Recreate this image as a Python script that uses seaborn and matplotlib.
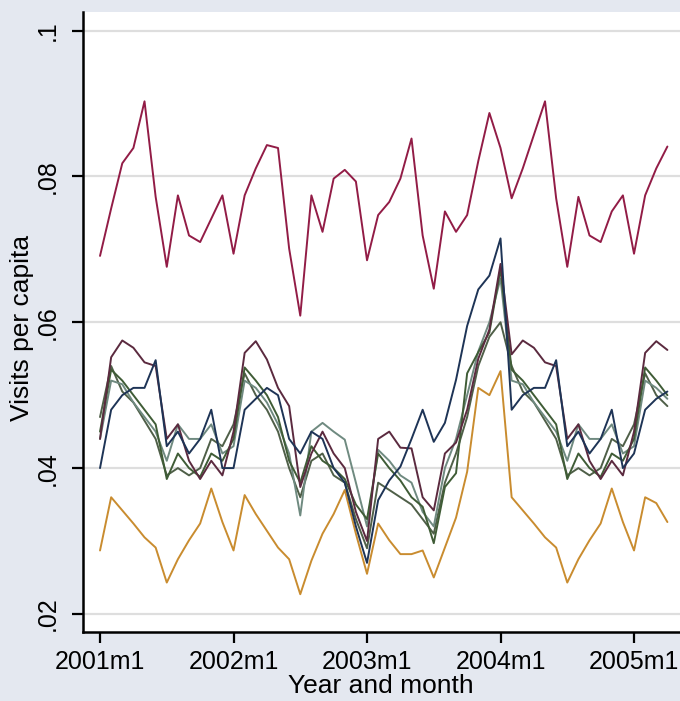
import pandas as pd
import seaborn as sns
import matplotlib.pyplot as plt

# meses desde 2001m1 hasta 2005m4
months = list(range(52))
tick_pos = [0, 12, 24, 36, 48]
tick_labels = ['2001m1', '2002m1', '2003m1', '2004m1', '2005m1']

crimson = [.0691, .0756, .0818, .0839, .0903, .0772, .0676, .0774, .0719, .0710, .0742, .0774,
           .0694, .0774, .0811, .0843, .0839, .0701, .0609, .0774, .0724, .0797, .0809, .0793,
           .0685, .0747, .0765, .0797, .0852, .0719, .0646, .0752, .0724, .0747, .0821, .0887,
           .0839, .0770, .0811, .0857, .0903, .0770, .0676, .0772, .0719, .0710, .0752, .0774,
           .0694, .0774, .0811, .0841]

navy = [.0400, .0480, .0500, .0510, .0510, .0548, .0430, .0450, .0420, .0440, .0480, .0400,
        .0400, .0480, .0495, .0510, .0500, .0440, .0420, .0450, .0440, .0400, .0380, .0320,
        .0270, .0356, .0383, .0402, .0440, .0480, .0436, .0462, .0521, .0595, .0645, .0664,
        .0715, .0480, .0500, .0510, .0510, .0548, .0430, .0450, .0420, .0440, .0480, .0400,
        .0420, .0480, .0495, .0505]

maroon = [.0440, .0552, .0575, .0565, .0545, .0540, .0440, .0460, .0410, .0385, .0410, .0390,
          .0450, .0558, .0574, .0549, .0510, .0485, .0374, .0420, .0450, .0420, .0400, .0340,
          .0300, .0440, .0450, .0428, .0427, .0360, .0342, .0420, .0435, .0480, .0550, .0590,
          .0680, .0556, .0575, .0565, .0545, .0540, .0440, .0460, .0410, .0385, .0410, .0390,
          .0450, .0558, .0574, .0562]

green = [.0450, .0535, .0520, .0500, .0480, .0460, .0385, .0420, .0400, .0388, .0420, .0410,
         .0440, .0538, .0520, .0500, .0470, .0410, .0380, .0430, .0410, .0400, .0385, .0350,
         .0330, .0420, .0400, .0383, .0360, .0347, .0297, .0374, .0393, .0530, .0559, .0586,
         .0673, .0535, .0520, .0500, .0480, .0460, .0385, .0420, .0400, .0388, .0420, .0410,
         .0440, .0538, .0520, .0500]

teal = [.0440, .0520, .0515, .0490, .0470, .0450, .0410, .0460, .0440, .0440, .0460, .0420,
        .0430, .0520, .0510, .0490, .0460, .0420, .0335, .0450, .0462, .0450, .0439, .0380,
        .0320, .0425, .0410, .0390, .0380, .0340, .0320, .0400, .0440, .0500, .0560, .0600,
        .0660, .0520, .0515, .0490, .0470, .0450, .0410, .0460, .0440, .0440, .0460, .0420,
        .0430, .0520, .0510, .0495]

olive = [.0470, .0540, .0505, .0490, .0465, .0440, .0390, .0400, .0390, .0400, .0440, .0430,
         .0460, .0530, .0500, .0480, .0450, .0400, .0360, .0410, .0420, .0390, .0380, .0330,
         .0290, .0380, .0370, .0360, .0350, .0330, .0310, .0380, .0420, .0470, .0540, .0580,
         .0600, .0540, .0505, .0490, .0465, .0440, .0390, .0400, .0390, .0400, .0440, .0430,
         .0460, .0530, .0500, .0485]

orange = [.0287, .0360, .0342, .0324, .0305, .0291, .0243, .0275, .0301, .0324, .0372, .0326,
          .0287, .0363, .0337, .0314, .0291, .0275, .0227, .0273, .0310, .0337, .0370, .0310,
          .0255, .0324, .0301, .0282, .0282, .0287, .0250, .0291, .0332, .0395, .0510, .0500,
          .0533, .0360, .0342, .0324, .0305, .0291, .0243, .0275, .0301, .0324, .0372, .0326,
          .0287, .0360, .0352, .0326]

series = {'orange': orange, 'olive': olive, 'teal': teal, 'green': green,
          'maroon': maroon, 'navy': navy, 'crimson': crimson}
colores = {'orange': '#c98c2f', 'olive': '#4f5f48', 'teal': '#6f8a80', 'green': '#3f5c36',
           'maroon': '#5b2a3f', 'navy': '#1e3456', 'crimson': '#921c46'}

filas = []
for nombre, valores in series.items():
    for m, v in zip(months, valores):
        filas.append({'month': m, 'visits': v, 'group': nombre})
df = pd.DataFrame(filas)

sns.set_style('white')
plt.rcParams['font.family'] = ['Liberation Sans', 'DejaVu Sans']
plt.rcParams['text.color'] = 'black'
plt.rcParams['axes.labelcolor'] = 'black'
plt.rcParams['xtick.color'] = 'black'
plt.rcParams['ytick.color'] = 'black'

fig = plt.figure(figsize=(6.8, 7.01), dpi=100, facecolor='#e4e8f0')
ax = fig.add_axes([83 / 680, 69 / 701, 600 / 680, 620 / 701])
ax.set_facecolor('white')

sns.lineplot(data=df, x='month', y='visits', hue='group', hue_order=list(series.keys()),
             palette=colores, linewidth=1.4, legend=False, estimator=None, ax=ax)

ax.set_xlim(-1.53, -1.53 + 600 / 11.125)
ax.set_ylim(0.01752, 0.10255)
ax.set_yticks([.02, .04, .06, .08, .1])
ax.set_yticklabels(['.02', '.04', '.06', '.08', '.1'])
ax.set_xticks(tick_pos)
ax.set_xticklabels(tick_labels)
plt.setp(ax.get_yticklabels(), rotation=90, va='center')

ax.grid(axis='y', color='#dedede', linewidth=1.6)
ax.set_axisbelow(True)
for lado in ['top', 'right']:
    ax.spines[lado].set_visible(False)
for lado in ['left', 'bottom']:
    ax.spines[lado].set_color('black')
    ax.spines[lado].set_linewidth(1.8)
ax.tick_params(axis='both', length=8, width=1.6, colors='black', labelsize=18,
               left=True, bottom=True)
ax.tick_params(axis='x', pad=5)
ax.tick_params(axis='y', pad=9)

ax.set_xlabel('Year and month', fontsize=19, color='black')
ax.set_ylabel('Visits per capita', fontsize=19, color='black')
ax.xaxis.set_label_coords(0.497, -0.067)
ax.yaxis.set_label_coords(-0.082, 0.49)

fig.savefig('out.png', dpi=100, facecolor=fig.get_facecolor())
